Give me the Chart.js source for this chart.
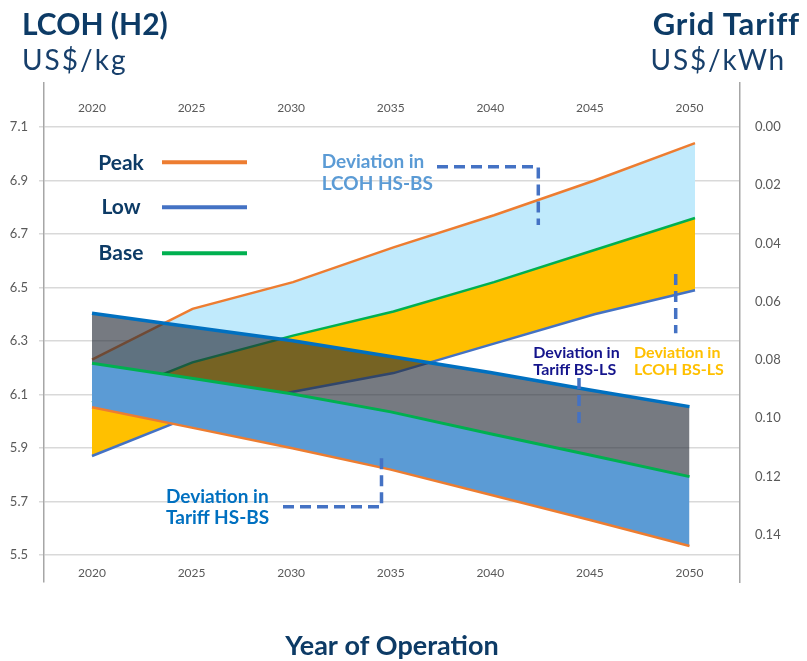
<!DOCTYPE html>
<html>
<head>
<meta charset="utf-8">
<script src="https://cdn.jsdelivr.net/npm/chart.js@4.4.1/dist/chart.umd.min.js"></script>
<style>
html,body{margin:0;padding:0;background:#fff;}
#wrap{position:relative;width:807px;height:661px;overflow:hidden;font-family:Lato,"Open Sans",sans-serif;}
#c{position:absolute;left:0;top:0;}
.t{position:absolute;white-space:nowrap;line-height:1;}
.b{font-weight:700;}
svg{position:absolute;left:0;top:0;}
</style>
</head>
<body>
<div id="wrap">
<canvas id="c" width="807" height="661"></canvas>

<div class="t b" style="left:22px;top:8px;font-size:30px;color:#0D3B66">LCOH (H2)</div>
<div class="t" style="left:22px;top:45.2px;font-size:28px;color:#173F6B;letter-spacing:2px">US$/kg</div>
<div class="t b" style="right:7px;top:7.7px;font-size:31px;color:#0D3B66;letter-spacing:0.8px">Grid Tariff</div>
<div class="t" style="right:21px;top:45.2px;font-size:28px;color:#173F6B;letter-spacing:1.8px">US$/kWh</div>

<div class="t b" style="left:81px;width:80px;text-align:center;top:151.4px;font-size:21px;color:#0D3B66">Peak</div>
<div class="t b" style="left:81px;width:80px;text-align:center;top:194.7px;font-size:21px;color:#0D3B66">Low</div>
<div class="t b" style="left:81px;width:80px;text-align:center;top:241.4px;font-size:21px;color:#0D3B66">Base</div>

<div class="t b" style="left:321.7px;top:150.4px;font-size:19px;line-height:21.7px;color:#5B9BD5">Deviation in<br>LCOH HS-BS</div>
<div class="t b" style="left:166px;top:484.8px;font-size:19px;line-height:21px;color:#0070C0">Deviation in<br>Tariff HS-BS</div>
<div class="t b" style="left:533.3px;top:342.6px;font-size:16px;line-height:17.3px;color:#14148C">Deviation in<br>Tariff BS-LS</div>
<div class="t b" style="left:634px;top:342.6px;font-size:16px;line-height:17.3px;color:#FFC000">Deviation in<br>LCOH BS-LS</div>

<svg width="807" height="661">
  <line x1="162" y1="162.3" x2="247" y2="162.3" stroke="#ED7D31" stroke-width="4"/>
  <line x1="162" y1="207.3" x2="247" y2="207.3" stroke="#4472C4" stroke-width="4"/>
  <line x1="162" y1="253.3" x2="247" y2="253.3" stroke="#00B050" stroke-width="4"/>
  <g fill="none" stroke="#4472C4" stroke-width="3.5" stroke-dasharray="11 6">
    <polyline points="437,166.7 538.3,166.7 538.3,225"/>
    <polyline points="579,378 579,426"/>
    <polyline points="675.7,274 675.7,333.3"/>
    <polyline points="283,506.7 381.5,506.7 381.5,455"/>
  </g>
</svg>
</div>

<script>
// ---- data ----
const years = [2020, 2025, 2030, 2035, 2040, 2045, 2050];

// LCOH (H2), US$/kg  (left axis)
const lcohPeak = [6.23, 6.42, 6.52, 6.65, 6.77, 6.90, 7.04];
const lcohBase = [6.07, 6.22, 6.32, 6.41, 6.52, 6.64, 6.76];
const lcohLow  = [5.87, 6.02, 6.11, 6.18, 6.29, 6.40, 6.49];

// Grid tariff, US$/kWh  (right axis, reversed)
const tariffLow  = [0.0640, 0.0687, 0.0733, 0.0788, 0.0843, 0.0903, 0.0960];
const tariffBase = [0.0811, 0.0863, 0.0916, 0.0978, 0.1053, 0.1126, 0.1200];
const tariffPeak = [0.0962, 0.1032, 0.1102, 0.1176, 0.1262, 0.1349, 0.1438];

// tick labels
const yearTicks   = [2020, 2025, 2030, 2035, 2040, 2045, 2050];
const lcohTicks   = [5.5, 5.7, 5.9, 6.1, 6.3, 6.5, 6.7, 6.9, 7.1];
const tariffTicks = [0.00, 0.02, 0.04, 0.06, 0.08, 0.10, 0.12, 0.14];

// ---- styling ----
const ORANGE = '#ED7D31', GREEN = '#00B050', BLUE = '#4472C4', DBLUE = '#0070C0';
const LIGHTBLUE = 'rgb(192,234,252)', GOLD = '#FFC000', BANDBLUE = '#5B9BD5';
const GRAYBAND = 'rgba(38,45,55,0.63)';
const NAVY = '#0D3B66', TICK = '#595959';

const pts = arr => arr.map((v, i) => ({x: years[i], y: v}));
const setTicks = list => scale => { scale.ticks = list.map(v => ({value: v})); };

Chart.defaults.font.family = 'Lato, "Open Sans", sans-serif';

new Chart(document.getElementById('c'), {
  type: 'line',
  data: {
    datasets: [
      {label: 'LCOH Peak', data: pts(lcohPeak), xAxisID: 'xL', yAxisID: 'y',
       borderColor: ORANGE, borderWidth: 2.5, backgroundColor: LIGHTBLUE, fill: {target: 1}, order: 10},
      {label: 'LCOH Base', data: pts(lcohBase), xAxisID: 'xL', yAxisID: 'y',
       borderColor: GREEN, borderWidth: 2.5, backgroundColor: GOLD, fill: {target: 2}, order: 9},
      {label: 'LCOH Low', data: pts(lcohLow), xAxisID: 'xL', yAxisID: 'y',
       borderColor: BLUE, borderWidth: 2.5, fill: false, order: 8},
      {label: 'Deviation in Tariff HS-BS', data: pts(tariffBase), xAxisID: 'x', yAxisID: 'y2',
       borderColor: 'rgba(0,0,0,0)', borderWidth: 0, backgroundColor: BANDBLUE, fill: {target: 6}, order: 7},
      {label: 'Deviation in Tariff BS-LS', data: pts(tariffLow), xAxisID: 'x', yAxisID: 'y2',
       borderColor: 'rgba(0,0,0,0)', borderWidth: 0, backgroundColor: GRAYBAND, fill: {target: 3}, order: 6},
      {label: 'Tariff Low', data: pts(tariffLow), xAxisID: 'x', yAxisID: 'y2',
       borderColor: DBLUE, borderWidth: 3.5, fill: false, order: 2},
      {label: 'Tariff Peak', data: pts(tariffPeak), xAxisID: 'x', yAxisID: 'y2',
       borderColor: ORANGE, borderWidth: 2.5, fill: false, order: 4},
      {label: 'Tariff Base', data: pts(tariffBase), xAxisID: 'x', yAxisID: 'y2',
       borderColor: GREEN, borderWidth: 3, fill: false, order: 3}
    ]
  },
  options: {
    responsive: false,
    animation: false,
    events: [],
    layout: {padding: 0},
    elements: {point: {radius: 0}, line: {tension: 0, borderCapStyle: 'butt'}},
    plugins: {legend: {display: false}, tooltip: {enabled: false}, title: {display: false}},
    scales: {
      x: {
        type: 'linear', position: 'bottom', min: 2017.590, max: 2052.536,
        afterBuildTicks: setTicks(yearTicks),
        afterFit: s => { s.height = 79; },
        grid: {display: false}, border: {display: false},
        ticks: {autoSkip: false, mirror: true, padding: 1.8, color: TICK, font: {size: 12}, maxRotation: 0,
                callback: v => String(v)},
        title: {display: true, text: 'Year of Operation', color: NAVY,
                font: {size: 27, weight: 'bold'}, padding: {top: 0, bottom: -1}}
      },
      x2: {
        type: 'linear', position: 'top', min: 2017.590, max: 2052.536,
        afterBuildTicks: setTicks(yearTicks),
        afterFit: s => { s.height = 83; },
        grid: {display: false}, border: {display: false},
        ticks: {autoSkip: false, mirror: true, padding: 17.8, color: TICK, font: {size: 12}, maxRotation: 0,
                callback: v => String(v)}
      },
      xL: {
        type: 'linear', display: false, min: 2017.612, max: 2052.239
      },
      y: {
        type: 'linear', position: 'left', min: 5.399, max: 7.2645,
        afterBuildTicks: setTicks(lcohTicks),
        afterFit: s => { s.width = 44; },
        grid: {color: '#d9d9d9', lineWidth: 1.5, tickLength: 5, drawTicks: true},
        border: {display: true, color: '#a6a6a6', width: 1.5},
        ticks: {padding: 11, color: TICK, font: {size: 13}, callback: v => v.toFixed(1)}
      },
      y2: {
        type: 'linear', position: 'right', reverse: true, min: -0.01499, max: 0.15614,
        afterBuildTicks: setTicks(tariffTicks),
        afterFit: s => { s.width = 67; },
        grid: {display: false},
        border: {display: true, color: '#a6a6a6', width: 1.5},
        ticks: {padding: 7, color: TICK, font: {size: 13}, callback: v => v.toFixed(2)}
      }
    }
  }
});
</script>
</body>
</html>
